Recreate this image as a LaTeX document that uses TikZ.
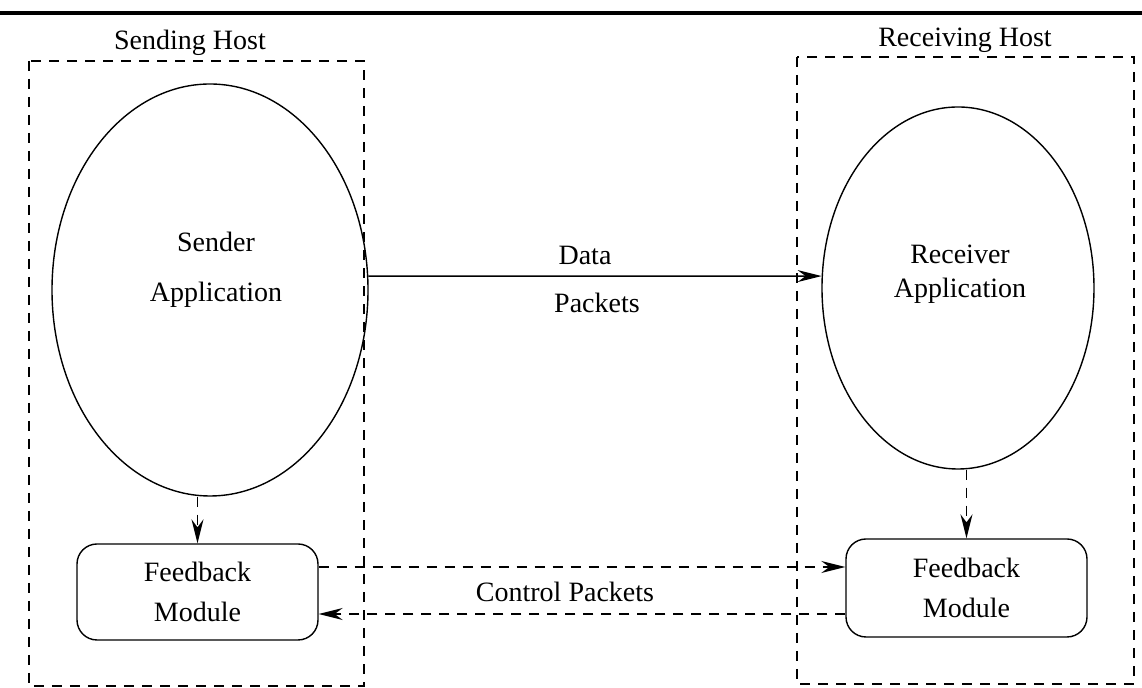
\documentclass[tikz,border=0pt]{standalone}
\usepackage{fontspec}
\setmainfont{Liberation Serif}
\usetikzlibrary{shapes.geometric,arrows.meta}

\tikzset{
  hostbox/.style={draw, dash pattern=on 5pt off 4pt, line width=0.7pt},
  appl/.style={draw, ellipse, line width=0.7pt, inner sep=0pt},
  fbmod/.style={draw, rounded corners=10pt, line width=0.7pt,
    minimum width=120.5pt, align=center},
  solidarrow/.style={line width=0.7pt, -{Stealth[length=12pt,width=6pt,inset=4pt]}},
  dasharrow/.style={solidarrow, dash pattern=on 5pt off 4pt},
}

\begin{document}
\begin{tikzpicture}[x=0.5pt,y=-0.5pt,font=\rmfamily\fontsize{14}{17}\selectfont]
    \useasboundingbox (0,0) rectangle (1142,688);

    % Heading rule
    \draw[line width=2pt] (0,13) -- (1142,13);

    % Hosts
    \draw[hostbox] (29,61) rectangle (364,686);
    \draw[hostbox] (797,57) rectangle (1134,684);
    \node (sendlbl) at (190,43) {Sending Host};
    \node (recvlbl) at (965,40) {Receiving Host};

    % Applications
    \node[appl, minimum width=158pt, minimum height=206pt] (sender) at (210,290) {};
    \node[appl, minimum width=136pt, minimum height=181pt] (recv) at (958,288) {};
    \node[align=center] (sendtxt) at (216,270) {Sender\\[8pt]Application};
    \node[align=center] (recvtxt) at (960,274) {Receiver\\Application};

    % Feedback modules
    \node[fbmod, minimum height=48pt] (sendfb) at (197.5,592) {Feedback\\[3pt]Module};
    \node[fbmod, minimum height=49pt] (recvfb) at (966.5,588) {Feedback\\[3pt]Module};

    % Data path
    \draw[solidarrow] (sender.5) -- (recv.175);
    \node (datalbl) at (585,255) {Data};
    \node (pktlbl) at (597,303) {Packets};

    % Application to module
    \draw[dasharrow] (sendfb.north |- sender.south) -- (sendfb.north);
    \draw[dasharrow] (recvfb.north |- recv.south) -- (recvfb.north);

    % Control path
    \coordinate (ctlA) at ([yshift=12.5pt]sendfb.east);
    \coordinate (ctlB) at ([yshift=-13pt]recvfb.west);
    \draw[dasharrow] (ctlA) -- (ctlA -| recvfb.west);
    \draw[dasharrow] (ctlB) -- (ctlB -| sendfb.east);
    \node (ctllbl) at (565,592) {Control Packets};
\end{tikzpicture}
\end{document}
